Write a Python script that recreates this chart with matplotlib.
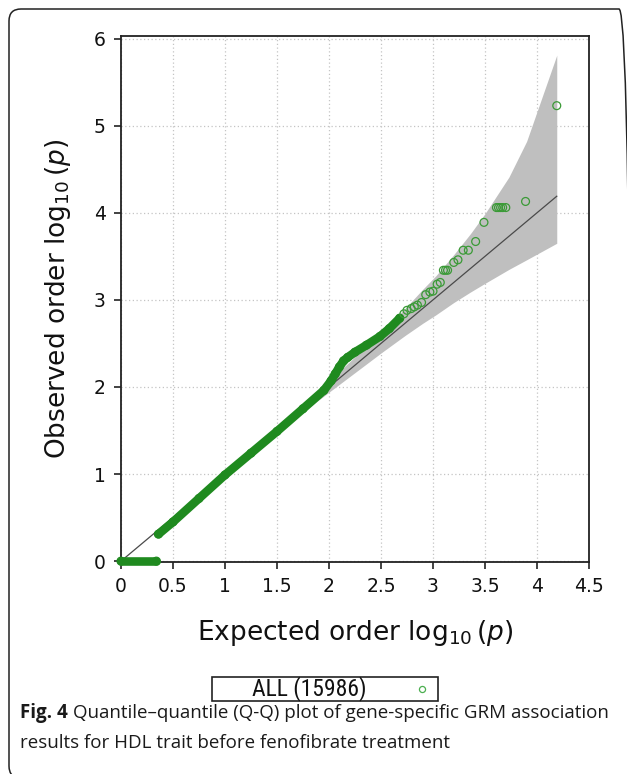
import matplotlib
matplotlib.use("Agg")
import matplotlib.pyplot as plt
from matplotlib import font_manager
from matplotlib.patches import FancyBboxPatch
from matplotlib.offsetbox import TextArea, DrawingArea, HPacker, AnchoredOffsetbox
from matplotlib.lines import Line2D
from matplotlib.transforms import IdentityTransform

# ---------------- data ----------------
zero_exp = [0.00, 0.34]
zero_obs = [0.00, 0.00]

dense_exp = [0.36, 0.50, 0.75, 1.00, 1.25, 1.50, 1.75, 1.95, 2.02, 2.06,
             2.10, 2.14, 2.18, 2.25, 2.36, 2.49, 2.58, 2.68]
dense_obs = [0.31, 0.45, 0.72, 0.99, 1.24, 1.49, 1.75, 1.96, 2.07, 2.15,
             2.23, 2.30, 2.34, 2.40, 2.48, 2.58, 2.67, 2.79]

sparse_exp = [2.72, 2.75, 2.79, 2.82, 2.85, 2.89, 2.93, 2.97, 3.00, 3.04,
              3.07, 3.10, 3.12, 3.14, 3.20, 3.24, 3.29, 3.34, 3.41, 3.49,
              3.61, 3.63, 3.65, 3.67, 3.70, 3.89, 4.19]
sparse_obs = [2.84, 2.88, 2.90, 2.92, 2.94, 2.97, 3.06, 3.09, 3.10, 3.18,
              3.20, 3.34, 3.34, 3.34, 3.43, 3.46, 3.57, 3.57, 3.67, 3.89,
              4.06, 4.06, 4.06, 4.06, 4.06, 4.13, 5.23]

null_x = [0.0, 4.19]
null_y = [0.0, 4.19]

band_x = [1.20, 1.50, 1.90, 2.20, 2.50, 2.73, 2.90, 3.03, 3.20, 3.36, 3.50, 3.73, 3.90, 4.19]
band_lo = [1.18, 1.47, 1.85, 2.12, 2.39, 2.59, 2.73, 2.83, 2.97, 3.09, 3.19, 3.35, 3.46, 3.65]
band_hi = [1.23, 1.54, 1.97, 2.29, 2.64, 2.90, 3.12, 3.28, 3.52, 3.76, 3.99, 4.41, 4.82, 5.81]

xticks = [0, 0.5, 1, 1.5, 2, 2.5, 3, 3.5, 4, 4.5]
xtick_labels = ["0", "0.5", "1", "1.5", "2", "2.5", "3", "3.5", "4", "4.5"]
yticks = [0, 1, 2, 3, 4, 5, 6]
ytick_labels = ["0", "1", "2", "3", "4", "5", "6"]

legend_label = "ALL (15986)"
xlabel = r"Expected order $\log_{10}(p)$"
ylabel = r"Observed order $\log_{10}(p)$"
caption_bold = "Fig. 4"
caption_line1 = "Quantile\u2013quantile (Q-Q) plot of gene-specific GRM association"
caption_line2 = "results for HDL trait before fenofibrate treatment"

# ---------------- styling ----------------
W, H, DPI = 627, 774, 100
GREEN = "#1f8a1f"
installed = {f.name for f in font_manager.fontManager.ttflist}
narrow = "DejaVu Sans"
for cand in ["Liberation Sans Narrow", "Roboto Condensed", "Liberation Sans"]:
    if cand in installed:
        narrow = cand
        break
cap_font = "Open Sans" if "Open Sans" in installed else "DejaVu Sans"

plt.rcParams["font.family"] = ["DejaVu Sans"]
plt.rcParams["mathtext.fontset"] = "dejavusans"

fig = plt.figure(figsize=(W / DPI, H / DPI), dpi=DPI)
fig.patch.set_facecolor("white")

def px(x0, y0, x1, y1):
    return [x0 / W, 1 - y1 / H, (x1 - x0) / W, (y1 - y0) / H]

ax = fig.add_axes(px(121, 36, 589, 562))
ax.set_xlim(0, 4.5)
ax.set_ylim(-0.01, 6.03)

ax.grid(True, linestyle=(0, (1, 2)), color="#c4c4c4", linewidth=0.9, zorder=0)
ax.set_axisbelow(True)

ax.fill_between(band_x, band_lo, band_hi, color="#bfbfbf", linewidth=0, zorder=1)
ax.plot(null_x, null_y, color="#4a4a4a", linewidth=0.9, zorder=2)

# dense (heavily overplotted) parts of the point cloud
ax.plot(zero_exp, zero_obs, color=GREEN, linewidth=6.2, solid_capstyle="round",
        zorder=3, clip_on=False)
ax.plot(dense_exp, dense_obs, color=GREEN, linewidth=6.2, solid_capstyle="round",
        zorder=3)
ax.scatter(zero_exp + dense_exp, zero_obs + dense_obs, s=32, facecolors="none",
           edgecolors=GREEN, linewidths=0.9, zorder=3, clip_on=False)
ax.scatter(sparse_exp, sparse_obs, s=32, facecolors="none", edgecolors="#3a9a36",
           linewidths=0.9, zorder=4)

ax.set_xticks(xticks)
ax.set_xticklabels(xtick_labels)
ax.set_yticks(yticks)
ax.set_yticklabels(ytick_labels)
ax.tick_params(direction="out", length=5, width=1.2, labelsize=13.5, color="#222222",
               labelcolor="#111111", top=False, right=False, pad=6)
for sp in ax.spines.values():
    sp.set_linewidth(1.3)
    sp.set_color("#222222")

ax.set_xlabel(xlabel, fontsize=19, labelpad=16, color="#111111")
ax.set_ylabel(ylabel, fontsize=19, labelpad=15, color="#111111")

# legend box built from offsetbox pieces
pt = 72.0 / DPI
left_sp = DrawingArea(40 * pt, 20 * pt, 0, 0)
txt = TextArea(legend_label, textprops=dict(fontsize=17, family=[narrow, "DejaVu Sans"],
                                            color="#111111"))
mark_da = DrawingArea(72 * pt, 20 * pt, 0, 0)
mark_da.add_artist(Line2D([56 * pt], [10 * pt], marker="o", markersize=4.4,
                          markerfacecolor="none", markeredgecolor="#4caf50",
                          markeredgewidth=0.9, linestyle="none"))
pack = HPacker(children=[left_sp, txt, mark_da], align="center", pad=0, sep=0)
leg = AnchoredOffsetbox(loc="center", child=pack, pad=0.0, borderpad=0, frameon=True,
                        bbox_to_anchor=(325 / W, 1 - 689 / H),
                        bbox_transform=fig.transFigure)
leg.patch.set_edgecolor("#222222")
leg.patch.set_linewidth(1.2)
fig.add_artist(leg)

# outer rounded frame (right and bottom edges fall just outside the image)
frame = FancyBboxPatch((9, -4), 622, H - 9 + 4,
                       boxstyle="round,pad=0,rounding_size=12",
                       transform=IdentityTransform(), facecolor="none",
                       edgecolor="#222222", linewidth=1.1)
fig.add_artist(frame)

# caption
cap_size = 13.5
t1 = fig.text(20 / W, 1 - 718 / H, caption_bold, fontsize=cap_size, fontweight="bold",
              family=cap_font, color="#1a1a1a", va="baseline")
fig.canvas.draw()
bb = t1.get_window_extent()
fig.text((bb.x1 + 5) / W, 1 - 718 / H, caption_line1, fontsize=cap_size,
         family=cap_font, color="#1a1a1a", va="baseline")
fig.text(20 / W, 1 - 748 / H, caption_line2, fontsize=cap_size,
         family=cap_font, color="#1a1a1a", va="baseline")

fig.savefig("out.png", dpi=DPI)
